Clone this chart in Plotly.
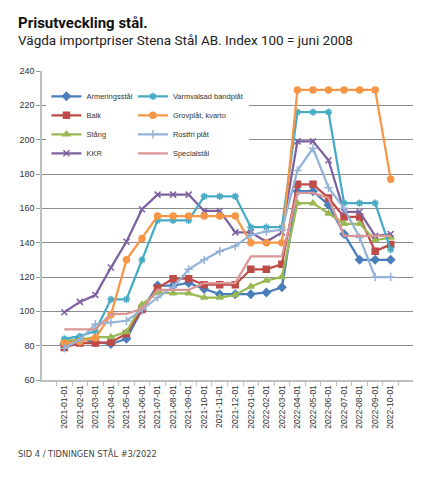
import plotly.graph_objects as go

months = ['2021-01-01', '2021-02-01', '2021-03-01', '2021-04-01', '2021-05-01', '2021-06-01',
          '2021-07-01', '2021-08-01', '2021-09-01', '2021-10-01', '2021-11-01', '2021-12-01',
          '2022-01-01', '2022-02-01', '2022-03-01', '2022-04-01', '2022-05-01', '2022-06-01',
          '2022-07-01', '2022-08-01', '2022-09-01', '2022-10-01']

armeringsstal = [81, 84, 82, 81, 84, 101, 115, 115, 116.5, 113, 110, 110,
                 110, 111, 114, 170, 170, 162, 145, 130, 130, 130]
balk = [79, 81.5, 81.5, 82, 87, 101, 113.5, 119, 119, 115.5, 115.5, 115.5,
        124.5, 124.5, 127.5, 174, 174, 166, 155, 155, 135, 139]
stang = [83, 83.5, 85, 85, 88, 104, 111, 110.5, 110.5, 108, 108, 109.5,
         114.5, 118, 120, 163, 163, 157, 151, 151, 141.5, 143]
kkr = [99.5, 105.5, 109.5, 125.5, 140.5, 159.5, 168, 168, 168, 158.5, 158.5, 146,
       146, 140.5, 146, 199, 199, 188, 158, 158, 144, 145]
varmvalsad = [84, 85.5, 88.5, 107, 107, 130, 153, 153, 153, 167, 167, 167,
              149, 149, 149, 216, 216, 216, 163, 163, 163, 136]
grovplat = [81.5, 82.5, 84.5, 98, 130, 142.5, 155.5, 155.5, 155.5, 155.5, 155.5, 155.5,
            140, 140, 140, 229, 229, 229, 229, 229, 229, 177]
rostfri = [78.5, 83.5, 92.5, 93.5, 94.5, 101, 108, 114, 124.5, 130, 135, 138,
           144.5, 146.5, 147.5, 182, 195, 172, 160, 143, 120, 120]
specialstal = [89.5, 89.5, 89.5, 98.5, 98.5, 101.5, 112.5, 112.5, 112.5, 116.5, 116.5, 116.5,
               132, 132, 132, 169, 169, 166, 144, 144, 144, 144]

# name, data, colour, marker, which legend column
series = [
    ('Armeringsstål', armeringsstal, '#4A7EBB', 'diamond', 'legend'),
    ('Balk', balk, '#BE4B48', 'square', 'legend'),
    ('Stång', stang, '#98B954', 'triangle-up', 'legend'),
    ('KKR', kkr, '#7D60A0', 'x-thin-open', 'legend'),
    ('Varmvalsad bandplåt', varmvalsad, '#46AAC5', 'asterisk-open', 'legend2'),
    ('Grovplåt, kvarto', grovplat, '#F79646', 'circle', 'legend2'),
    ('Rostfri plåt', rostfri, '#95B3D7', 'cross-thin-open', 'legend2'),
    ('Specialstål', specialstal, '#D99694', None, 'legend2'),
]

fig = go.Figure()
for name, vals, col, sym, leg in series:
    if sym is None:
        fig.add_trace(go.Scatter(x=months, y=vals, name=name, mode='lines',
                                 line=dict(color=col, width=2.25), legend=leg))
    else:
        fig.add_trace(go.Scatter(
            x=months, y=vals, name=name, mode='lines+markers',
            line=dict(color=col, width=2.25),
            marker=dict(symbol=sym, size=6, color=col, line=dict(color=col, width=1.5)),
            legend=leg))

legend_style = dict(yanchor='top', xanchor='left', bgcolor='white', borderwidth=0,
                    font=dict(family='Liberation Sans', size=7.5, color='#333333'),
                    itemwidth=30, tracegroupgap=0)

# page body has an 8px margin, so the figure is 8px smaller than the window
fig.update_layout(
    width=433, height=479,
    margin=dict(l=34, r=28, t=63, b=107),
    paper_bgcolor='white', plot_bgcolor='white',
    font=dict(family='Liberation Sans', color='#333333'),
    legend=dict(x=0.012, y=0.965, **legend_style),
    legend2=dict(x=0.245, y=0.965, **legend_style),
    xaxis=dict(type='category', tickangle=-90, tickson='boundaries', ticks='outside',
               ticklen=4, tickcolor='#BFBFBF', showline=True, linecolor='#BFBFBF', linewidth=1.5,
               showgrid=False, tickfont=dict(size=8.5, color='#333333')),
    yaxis=dict(range=[60, 240], dtick=20, ticks='outside', ticklen=4, tickcolor='#999999',
               showline=True, linecolor='#BFBFBF', linewidth=1.5, gridcolor='#8C8C8C', gridwidth=1,
               zeroline=False, tickfont=dict(size=9, color='#333333')),
)

fig.add_annotation(text='<b>Prisutveckling stål.</b>', xref='paper', yref='paper',
                   x=-0.07, y=1.19, xanchor='left', yanchor='top', showarrow=False,
                   font=dict(family='Roboto', size=15, color='#111111'))
fig.add_annotation(text='Vägda importpriser Stena Stål AB. Index 100 = juni 2008', xref='paper', yref='paper',
                   x=-0.07, y=1.133, xanchor='left', yanchor='top', showarrow=False,
                   font=dict(family='Roboto', size=13.5, color='#222222'))
fig.add_annotation(text='SID 4 / TIDNINGEN STÅL #3/2022', xref='paper', yref='paper',
                   x=-0.07, y=-0.238, xanchor='left', yanchor='middle', showarrow=False,
                   font=dict(family='DejaVu Sans', size=8.3, color='#444444'))

fig.write_html("out.html")
